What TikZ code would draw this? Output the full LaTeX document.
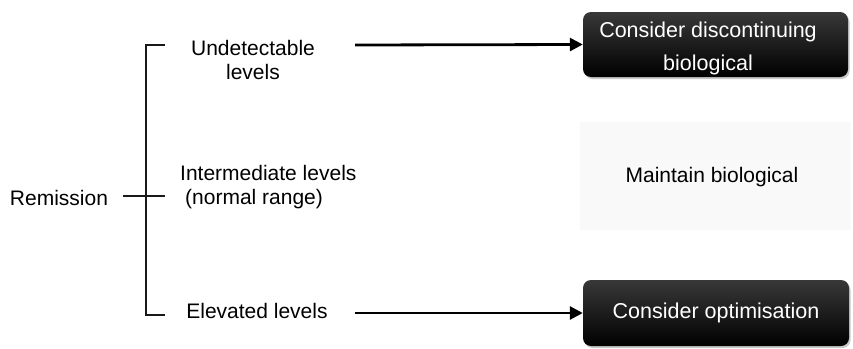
\documentclass[tikz,border=0pt]{standalone}
\usepackage{fontspec}
\setmainfont{Liberation Sans}
\usetikzlibrary{arrows.meta,shadows}
\begin{document}
\begin{tikzpicture}[x=1pt,y=-1pt,
  lbl/.style={font=\fontsize{21}{24}\selectfont, inner sep=0pt, text=black},
  darkbox/.style={rounded corners=8pt, top color=black!78, bottom color=black, draw=none,
     text=white, font=\fontsize{21.5}{33}\selectfont, align=center, inner sep=0pt,
     drop shadow={shadow xshift=1.5pt, shadow yshift=-2pt, fill=black!35, opacity=0.6}},
  boxtext/.style={text=white, font=\fontsize{21.5}{33}\selectfont, align=center, inner sep=0pt},
  brk/.style={line width=2.2pt, black!90},
  arr/.style={line width=2.8pt, -{Triangle[length=13pt,width=13pt]}}]
\useasboundingbox (0,0) rectangle (853,348);
\fill[white] (0,0) rectangle (853,348);
% nodes
\node[lbl] (rem) at (59,198) {Remission};
\node[lbl, align=center] (und) at (253,60) {Undetectable\\levels};
\node[lbl, align=left, anchor=west] (inter) at (180,187) {Intermediate levels\\\hspace{5pt}(normal range)};
\node[lbl] (elev) at (257,311) {Elevated levels};
% maintain region
\fill[black!2.5] (580,122) rectangle (851,230);
\node[lbl] (maint) at (712,177) {Maintain biological};
% boxes
\node[darkbox, minimum width=265pt, minimum height=65pt] (disc) at (715.5,44.5) {};
\node[boxtext] (disct) at (708,48) {Consider discontinuing\\biological};
\node[darkbox, minimum width=266pt, minimum height=66pt] (opt) at (716,313) {Consider optimisation};
% bracket
\coordinate (t1) at (165,45);
\coordinate (b1) at (146,315);
\coordinate (b2) at (165,315);
\coordinate (m0) at (123,196);
\coordinate (m1) at (165,196);
\draw[brk] (t1) -| (b1) -- (b2);
\draw[brk] (m0) -- (m1);
% arrows
\coordinate (a1) at (355,45);
\coordinate (a2) at (355,313);
\draw[arr] (a1) -- (disc.west);
\draw[arr] (a2) -- (opt.west);
\end{tikzpicture}
\end{document}
